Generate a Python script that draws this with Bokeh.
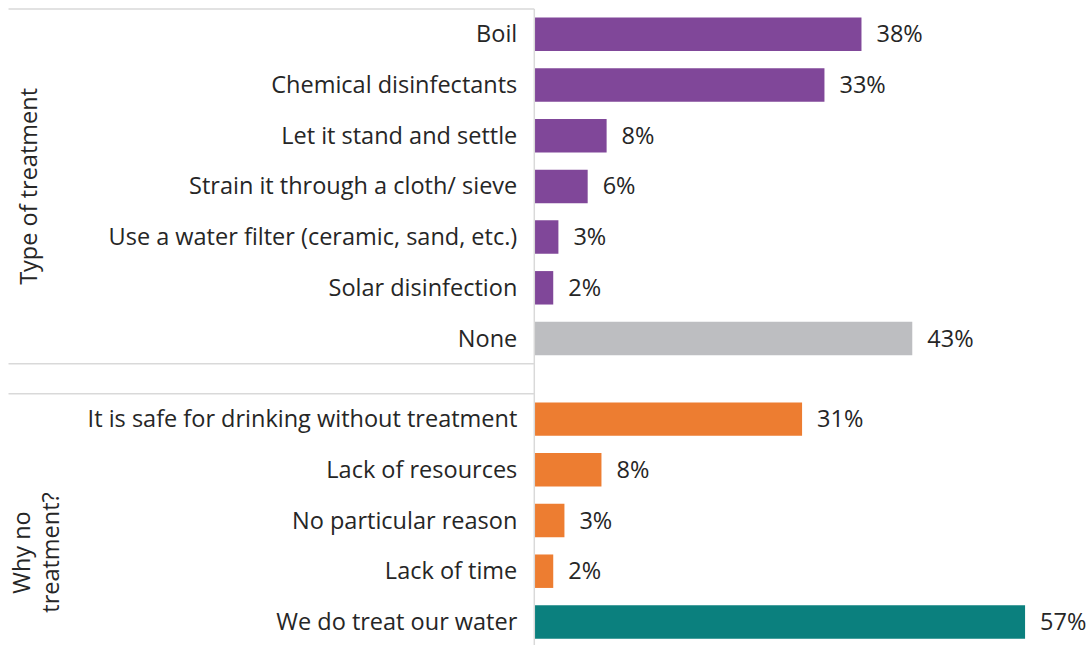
from math import pi
from bokeh.plotting import figure
from bokeh.models import Range1d, ColumnDataSource
from bokeh.core.properties import value
from bokeh.embed import file_html
from bokeh.resources import INLINE

# ---- data ----
groups = ["Type of treatment", "Why no\ntreatment?"]
treatment_cats = ["Boil", "Chemical disinfectants", "Let it stand and settle",
                  "Strain it through a cloth/ sieve",
                  "Use a water filter (ceramic, sand, etc.)", "Solar disinfection", "None"]
treatment_vals = [38.0, 33.7, 8.4, 6.2, 2.8, 2.2, 43.9]
treatment_labels = ["38%", "33%", "8%", "6%", "3%", "2%", "43%"]
treatment_colors = ["#804799"] * 6 + ["#BDBEC1"]

reason_cats = ["It is safe for drinking without treatment", "Lack of resources",
               "No particular reason", "Lack of time", "We do treat our water"]
reason_vals = [31.1, 7.8, 3.5, 2.2, 57.0]
reason_labels = ["31%", "8%", "3%", "2%", "57%"]
reason_colors = ["#ED7D31"] * 4 + ["#0B807E"]

# ---- layout ----
W, H = 1089, 645
PX_PER_PCT = 8.61
X0_PX = 533.8          # pixel of 0%
PITCH = 50.7           # px per row
Y0_PX = 33.8           # pixel centre of first row
GROUP_GAP = 0.59       # extra rows between the groups

def xpx(px):
    return (px - X0_PX) / PX_PER_PCT

def ypx(py):
    return (py - Y0_PX) / PITCH

n1 = len(treatment_cats)
ys = list(range(n1)) + [n1 + GROUP_GAP + i for i in range(len(reason_cats))]
cats = treatment_cats + reason_cats
vals = treatment_vals + reason_vals
labels = treatment_labels + reason_labels
colors = treatment_colors + reason_colors

src = ColumnDataSource(dict(y=ys, cat=cats, val=vals, lab=labels, color=colors))

p = figure(width=W, height=H, output_backend="svg", toolbar_location=None,
           x_range=Range1d(xpx(0), xpx(W)), y_range=Range1d(ypx(H), ypx(0)),
           min_border=0, outline_line_color=None)
p.axis.visible = False
p.grid.visible = False
p.background_fill_color = "white"
p.border_fill_color = "white"

FONT = value("Open Sans")
FS = "23.5px"
TXT = "#262626"
LINE = "#D9D9D9"

p.hbar(y="y", left=0, right="val", height=0.66, fill_color="color",
       line_color=None, source=src)

p.text(x=0, y="y", text="cat", source=src, x_offset=-17, y_offset=-1,
       text_align="right", text_baseline="middle", text_font=FONT,
       text_font_size=FS, text_color=TXT)
p.text(x="val", y="y", text="lab", source=src, x_offset=15, y_offset=-1,
       text_align="left", text_baseline="middle", text_font=FONT,
       text_font_size=FS, text_color=TXT)

# separators and axis line
top = -0.5
sep1 = n1 - 0.5
sep2 = n1 - 0.5 + GROUP_GAP
p.segment(x0=[xpx(8)] * 3, x1=[0] * 3, y0=[top, sep1, sep2], y1=[top, sep1, sep2],
          line_color=LINE, line_width=1.5)
p.segment(x0=[0], x1=[0], y0=[top], y1=[ypx(H + 5)], line_color=LINE, line_width=1.5)

# group labels
g_x = [xpx(27), xpx(35)]
g_y = [(top + sep1) / 2, ypx(552)]
p.text(x=g_x, y=g_y, text=groups, angle=pi / 2, text_align="center",
       text_baseline="middle", text_font=FONT, text_font_size=FS,
       text_color=TXT, text_line_height=0.93)

open("out.html", "w").write(file_html(p, INLINE))
